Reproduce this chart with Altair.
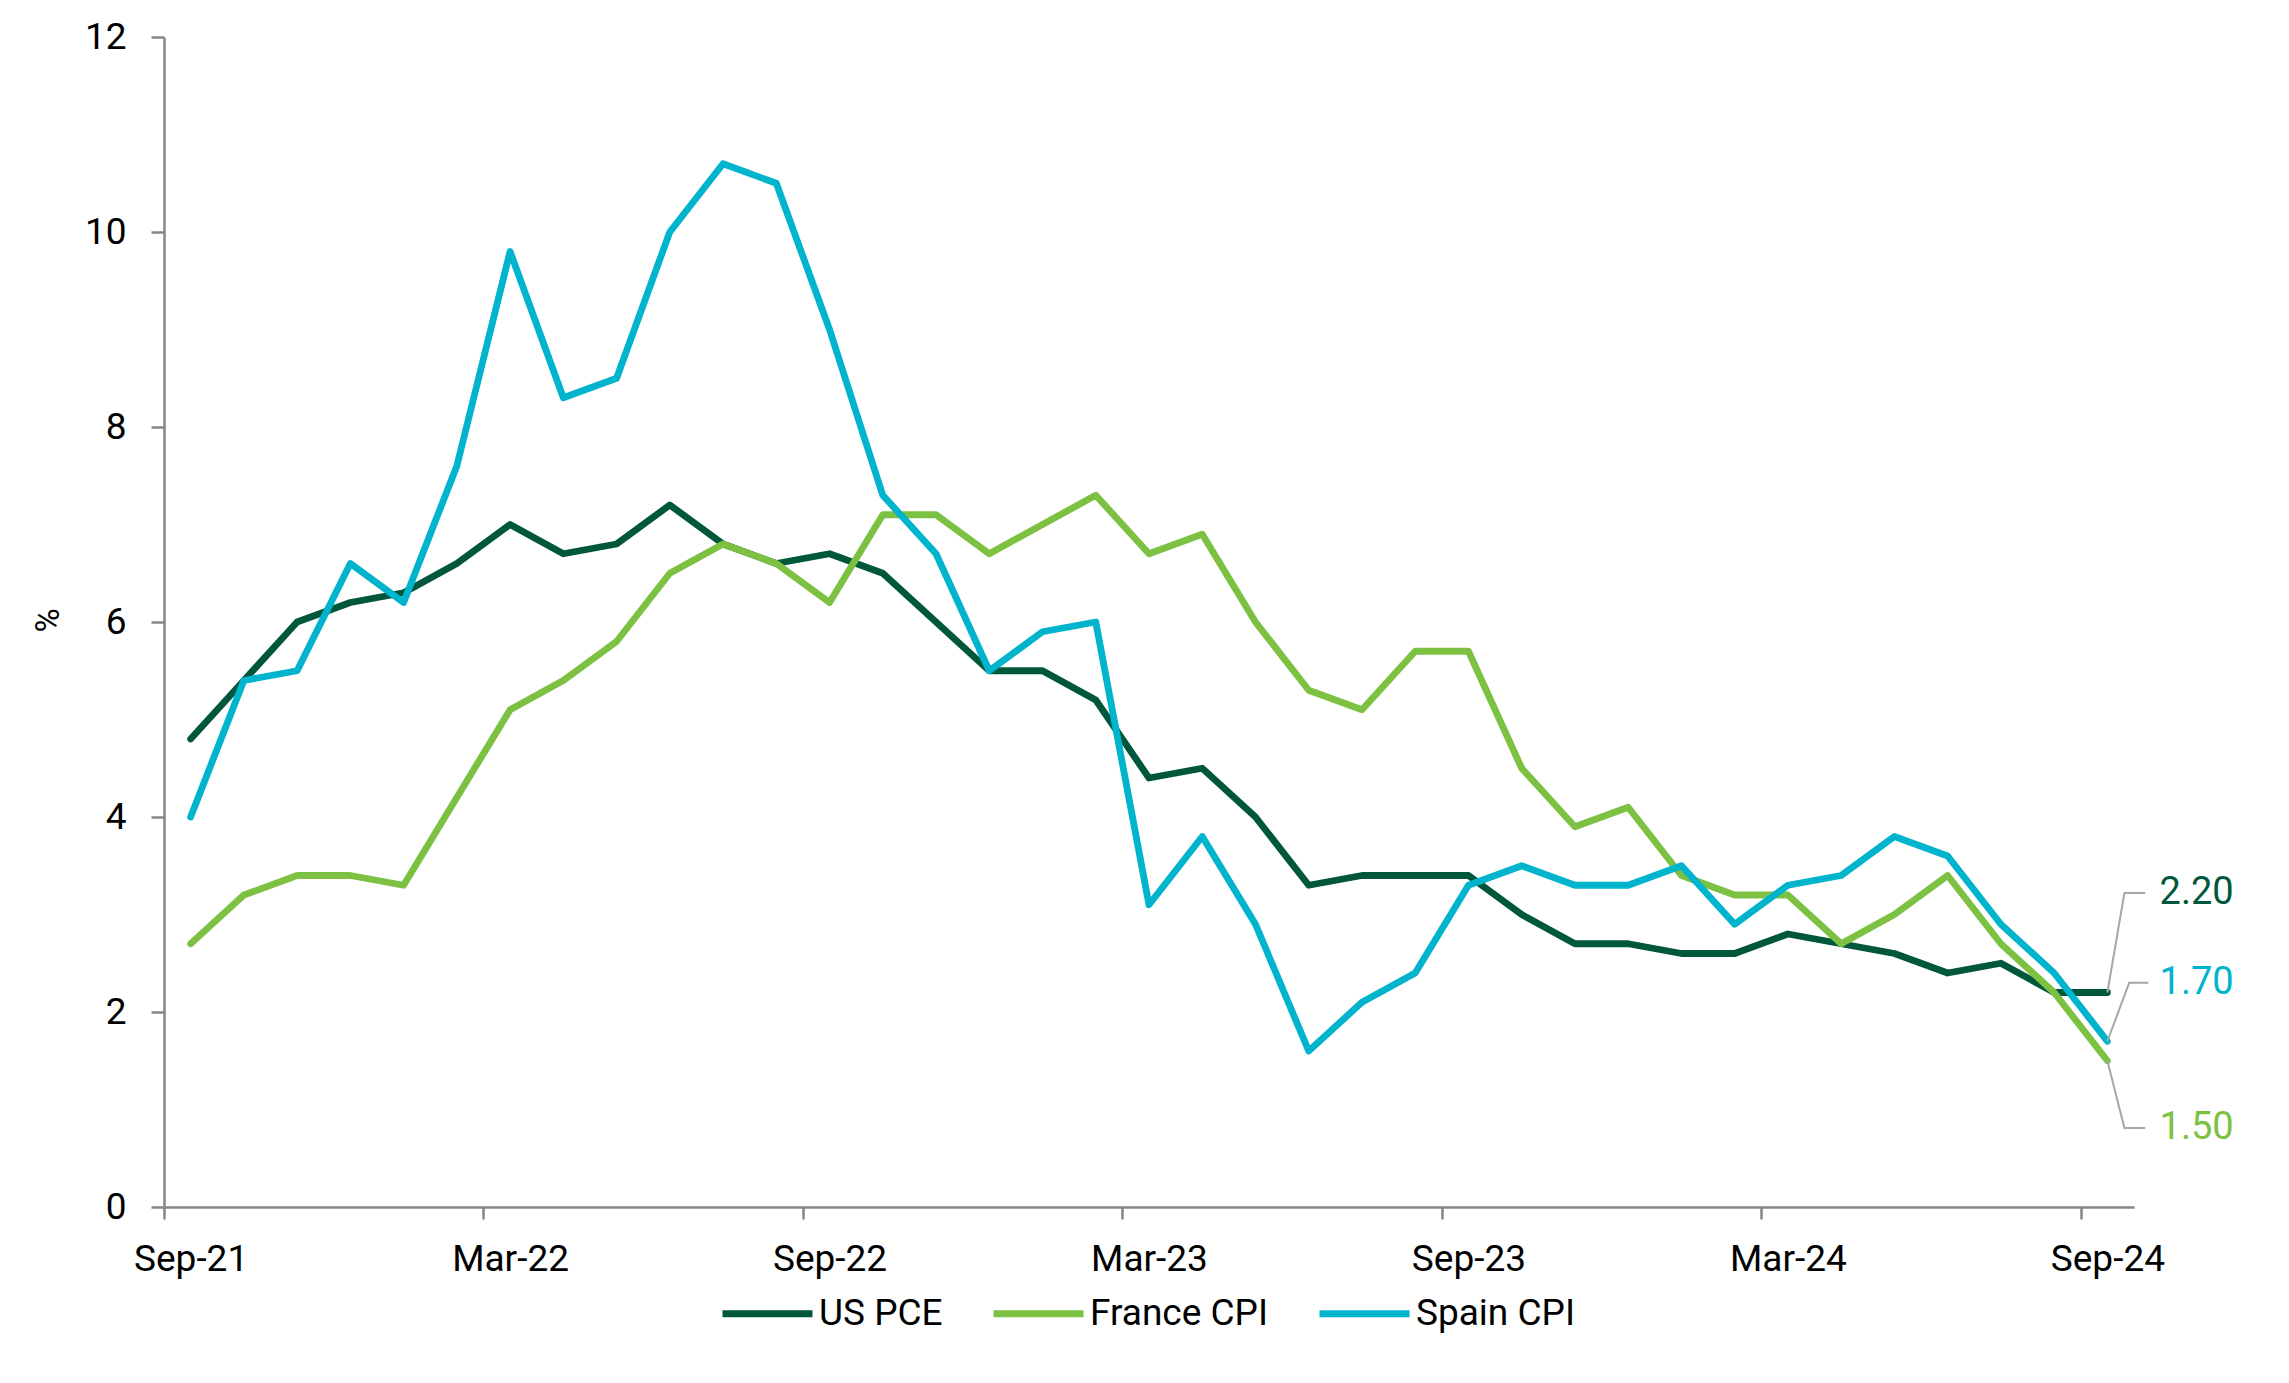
import json
import altair as alt
import pandas as pd

# ---- data ----
months = [
    "Sep-21", "Oct-21", "Nov-21", "Dec-21", "Jan-22", "Feb-22", "Mar-22", "Apr-22",
    "May-22", "Jun-22", "Jul-22", "Aug-22", "Sep-22", "Oct-22", "Nov-22", "Dec-22",
    "Jan-23", "Feb-23", "Mar-23", "Apr-23", "May-23", "Jun-23", "Jul-23", "Aug-23",
    "Sep-23", "Oct-23", "Nov-23", "Dec-23", "Jan-24", "Feb-24", "Mar-24", "Apr-24",
    "May-24", "Jun-24", "Jul-24", "Aug-24", "Sep-24",
]
tick_labels = ["Sep-21", "Mar-22", "Sep-22", "Mar-23", "Sep-23", "Mar-24", "Sep-24"]

series_names = ["US PCE", "France CPI", "Spain CPI"]

us_pce = [4.8, 5.4, 6.0, 6.2, 6.3, 6.6, 7.0, 6.7, 6.8, 7.2, 6.8, 6.6, 6.7, 6.5, 6.0, 5.5,
          5.5, 5.2, 4.4, 4.5, 4.0, 3.3, 3.4, 3.4, 3.4, 3.0, 2.7, 2.7, 2.6, 2.6, 2.8, 2.7,
          2.6, 2.4, 2.5, 2.2, 2.2]
france_cpi = [2.7, 3.2, 3.4, 3.4, 3.3, 4.2, 5.1, 5.4, 5.8, 6.5, 6.8, 6.6, 6.2, 7.1, 7.1, 6.7,
              7.0, 7.3, 6.7, 6.9, 6.0, 5.3, 5.1, 5.7, 5.7, 4.5, 3.9, 4.1, 3.4, 3.2, 3.2, 2.7,
              3.0, 3.4, 2.7, 2.2, 1.5]
spain_cpi = [4.0, 5.4, 5.5, 6.6, 6.2, 7.6, 9.8, 8.3, 8.5, 10.0, 10.7, 10.5, 9.0, 7.3, 6.7, 5.5,
             5.9, 6.0, 3.1, 3.8, 2.9, 1.6, 2.1, 2.4, 3.3, 3.5, 3.3, 3.3, 3.5, 2.9, 3.3, 3.4,
             3.8, 3.6, 2.9, 2.4, 1.7]

# end labels, in the same order as series_names
end_labels = ["2.20", "1.50", "1.70"]

# ---- annotation placement (label positions, not data) ----
end_label_y = [3.22, 0.81, 2.30]
leader_bend_x = [36.32, 36.32, 36.41]
leader_end_x = [36.71, 36.71, 36.77]
label_x = 36.98

colors = ["#00573C", "#7DC143", "#00B4CD"]
FONT = "Roboto"

# ---- tables ----
all_values = [us_pce, france_cpi, spain_cpi]
rows = []
for name, vals in zip(series_names, all_values):
    for i, (m, v) in enumerate(zip(months, vals)):
        rows.append({"series": name, "idx": i, "month": m, "value": v})
df = pd.DataFrame(rows)

last_idx = len(months) - 1
lead_rows = []
for k, name in enumerate(series_names):
    last = all_values[k][-1]
    lead_rows.append({"series": name, "ord": 0, "idx": last_idx, "value": last})
    lead_rows.append({"series": name, "ord": 1, "idx": leader_bend_x[k], "value": end_label_y[k]})
    lead_rows.append({"series": name, "ord": 2, "idx": leader_end_x[k], "value": end_label_y[k]})
lead_df = pd.DataFrame(lead_rows)

lab_df = pd.DataFrame({
    "series": series_names,
    "text": end_labels,
    "idx": [label_x] * 3,
    "value": end_label_y,
    "color": colors,
})

W, H = 1970, 1170
n = len(months)
band_px = W / n
tick_vals = [-0.5 + 6 * k for k in range(len(tick_labels))]
label_expr = json.dumps(tick_labels) + "[round((datum.value + 0.5) / 6)]"

x_scale = alt.Scale(domain=[-0.5, n - 0.5], nice=False, zero=False)
y_scale = alt.Scale(domain=[0, 12], nice=False)

x_axis = alt.Axis(
    values=tick_vals, labelExpr=label_expr, title=None, grid=False,
    labelOffset=band_px / 2, labelFlush=False, labelOverlap=False, labelBound=False,
    labelPadding=22, tickSize=12,
)
y_axis = alt.Axis(
    values=list(range(0, 13, 2)), format="d", title="%", grid=False, labelPadding=25, tickSize=13,
    titleAngle=270, titleX=-116, titleY=583, titleAlign="center", titleBaseline="middle",
    titleFontSize=33, titleFontWeight="normal", titleFont=FONT, titleColor="#000000",
)

base_x = alt.X("idx:Q", scale=x_scale, axis=x_axis)
base_y = alt.Y("value:Q", scale=y_scale, axis=y_axis)

lines = alt.Chart(df).mark_line(strokeWidth=6.8, strokeCap="round", strokeJoin="round").encode(
    x=base_x,
    y=base_y,
    color=alt.Color(
        "series:N",
        scale=alt.Scale(domain=series_names, range=colors),
        sort=series_names,
        legend=alt.Legend(
            title=None, orient="none", direction="horizontal",
            legendX=555, legendY=1228,
            symbolType="stroke", symbolStrokeWidth=6.8, symbolSize=8100,
            labelFont=FONT, labelFontSize=37, labelColor="#000000", labelLimit=0,
            labelOffset=3, columnPadding=36, padding=0,
        ),
    ),
)

leaders = alt.Chart(lead_df).mark_line(strokeWidth=2, color="#A6A6A6").encode(
    x=alt.X("idx:Q", scale=x_scale),
    y=alt.Y("value:Q", scale=y_scale),
    detail="series:N",
    order="ord:Q",
)

texts = alt.Chart(lab_df).mark_text(align="left", baseline="middle", font=FONT, fontSize=38).encode(
    x=alt.X("idx:Q", scale=x_scale),
    y=alt.Y("value:Q", scale=y_scale),
    text="text:N",
    color=alt.Color("color:N", scale=None),
)

chart = alt.layer(lines, leaders, texts).properties(
    width=W, height=H,
    padding={"left": 156, "top": 29, "right": 140, "bottom": 150},
    autosize=alt.AutoSizeParams(type="none"),
    background="#ffffff",
).configure_view(stroke=None).configure_axis(
    domainColor="#868686", domainWidth=2.5, tickColor="#868686", tickWidth=2.5,
    labelFont=FONT, labelFontSize=37, labelColor="#000000",
)

chart.save("out.html", embed_options={"renderer": "svg", "actions": False})
